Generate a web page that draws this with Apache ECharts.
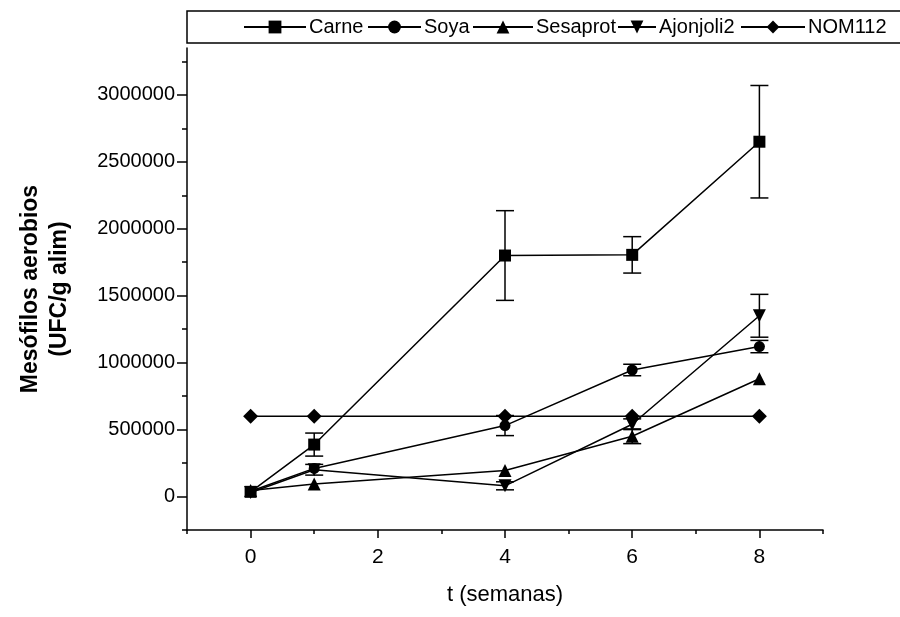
<!DOCTYPE html>
<html>
<head>
<meta charset="utf-8">
<script src="https://cdn.jsdelivr.net/npm/echarts@6/dist/echarts.min.js"></script>
<style>
  html, body { margin: 0; padding: 0; background: #fff; }
  #chart { width: 900px; height: 617px; }
</style>
</head>
<body>
<div id="chart"></div>
<script>
// Sampling times (weeks)
const weeks = [0, 1, 4, 6, 8];

// Aerobic mesophile counts (UFC/g alim) and their error half-widths
const carne = [35000, 388000, 1800000, 1805000, 2650000];
const carneErr = [0, 86000, 335000, 136000, 420000];
const soya = [40000, 210000, 530000, 945000, 1120000];
const soyaErr = [0, 0, 75000, 43000, 46000];
const sesaprot = [45000, 93000, 195000, 450000, 880000];
const sesaprotErr = [0, 0, 0, 55000, 0];
const ajonjoli2 = [30000, 200000, 80000, 540000, 1350000];
const ajonjoli2Err = [0, 40000, 30000, 40000, 160000];
const nom112 = [600000, 600000, 600000, 600000, 600000];

// Axis ticks and labels
const xMajor = [0, 2, 4, 6, 8];
const xMinor = [-1, 1, 3, 5, 7, 9];
const yMajor = [0, 500000, 1000000, 1500000, 2000000, 2500000, 3000000];
const yMinor = [-250000, 250000, 750000, 1250000, 1750000, 2250000, 2750000, 3250000];

const SANS = "'Liberation Sans', Arial, sans-serif";
const INK = '#000';

function pairs(vals) { return weeks.map((w, i) => [w, vals[i]]); }
function errRows(vals, errs) {
  const rows = [];
  weeks.forEach((w, i) => { if (errs[i] > 0) rows.push([w, vals[i] - errs[i], vals[i] + errs[i]]); });
  return rows;
}

function lineSeries(name, vals, symbol, size, rotate) {
  return {
    name, type: 'line', data: pairs(vals),
    symbol, symbolSize: size, symbolRotate: rotate || 0,
    lineStyle: { color: INK, width: 1.5 },
    itemStyle: { color: INK, borderWidth: 0 },
    z: 3
  };
}

function errorSeries(vals, errs) {
  return {
    type: 'custom', data: errRows(vals, errs),
    encode: { x: 0, y: [1, 2] },
    z: 2,
    renderItem(params, api) {
      const x = api.value(0);
      const lo = api.coord([x, api.value(1)]);
      const hi = api.coord([x, api.value(2)]);
      const hw = 9;
      const st = { stroke: INK, lineWidth: 1.5 };
      return {
        type: 'group', children: [
          { type: 'line', shape: { x1: lo[0], y1: lo[1], x2: hi[0], y2: hi[1] }, style: st },
          { type: 'line', shape: { x1: hi[0] - hw, y1: hi[1], x2: hi[0] + hw, y2: hi[1] }, style: st },
          { type: 'line', shape: { x1: lo[0] - hw, y1: lo[1], x2: lo[0] + hw, y2: lo[1] }, style: st }
        ]
      };
    }
  };
}

function legendAt(name, left, width) {
  return {
    data: [name], left, top: 17, itemWidth: width, itemHeight: 16, itemGap: 0,
    textStyle: { fontFamily: SANS, fontSize: 20, color: INK, padding: [6, 0, 0, -2] },
    padding: 0, selectedMode: false
  };
}

const plain = v => String(v);

const chart = echarts.init(document.getElementById('chart'), null, { renderer: 'canvas' });

chart.setOption({
  animation: false,
  backgroundColor: '#fff',
  grid: { left: 187, right: 77, top: 48, bottom: 87 },
  graphic: [{
    type: 'rect', shape: { x: 187, y: 11, width: 760, height: 32 },
    style: { fill: 'none', stroke: INK, lineWidth: 1.5 }, z: 0
  }],
  legend: [
    legendAt('Carne', 243, 62),
    legendAt('Soya', 367, 53),
    legendAt('Sesaprot', 472, 60),
    legendAt('Ajonjoli2', 617, 38),
    legendAt('NOM112', 740, 64)
  ],
  xAxis: [{
    type: 'value', min: -1, max: 9,
    name: 't (semanas)', nameLocation: 'middle', nameGap: 54,
    nameTextStyle: { fontFamily: SANS, fontSize: 22, color: INK },
    axisLine: { onZero: false, lineStyle: { color: INK, width: 1.5 } },
    axisTick: { customValues: xMajor, length: 8, lineStyle: { color: INK, width: 1.5 } },
    axisLabel: { customValues: xMajor, formatter: plain, fontFamily: SANS, fontSize: 21, color: INK, margin: 17 },
    splitLine: { show: false }
  }, {
    type: 'value', min: -1, max: 9, position: 'bottom',
    axisLine: { show: false, onZero: false },
    axisTick: { customValues: xMinor, length: 4, lineStyle: { color: INK, width: 1.5 } },
    axisLabel: { show: false }, splitLine: { show: false }
  }],
  yAxis: [{
    type: 'value', min: -250000, max: 3350000,
    name: 'Mesófilos aerobios\n(UFC/g alim)', nameLocation: 'middle', nameGap: 113,
    nameTextStyle: { fontFamily: SANS, fontSize: 23, fontWeight: 'bold', color: INK, lineHeight: 29 },
    axisLine: { onZero: false, lineStyle: { color: INK, width: 1.5 } },
    axisTick: { customValues: yMajor, length: 10, lineStyle: { color: INK, width: 1.5 } },
    axisLabel: { customValues: yMajor, formatter: plain, fontFamily: SANS, fontSize: 20, color: INK, margin: 12 },
    splitLine: { show: false }
  }, {
    type: 'value', min: -250000, max: 3350000, position: 'left',
    axisLine: { show: false, onZero: false },
    axisTick: { customValues: yMinor, length: 5, lineStyle: { color: INK, width: 1.5 } },
    axisLabel: { show: false }, splitLine: { show: false }
  }],
  series: [
    errorSeries(carne, carneErr),
    errorSeries(soya, soyaErr),
    errorSeries(sesaprot, sesaprotErr),
    errorSeries(ajonjoli2, ajonjoli2Err),
    lineSeries('Carne', carne, 'rect', 12),
    lineSeries('Soya', soya, 'circle', 11),
    lineSeries('Sesaprot', sesaprot, 'triangle', 13),
    lineSeries('Ajonjoli2', ajonjoli2, 'triangle', 13, 180),
    lineSeries('NOM112', nom112, 'diamond', 15)
  ]
});
</script>
</body>
</html>
